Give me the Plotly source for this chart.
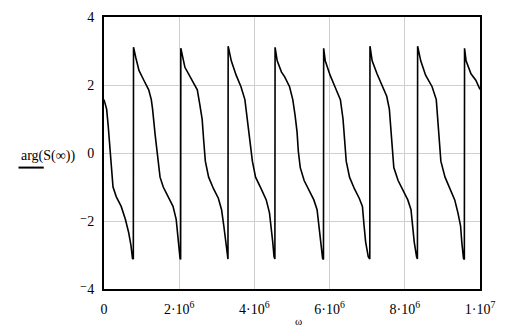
import plotly.graph_objects as go

# omega values (in units of 1e6) and arg(S(omega)) values
omega_e6 = [
    0.000, 0.070, 0.111, 0.155, 0.199, 0.240, 0.328, 0.457, 0.568, 0.654, 0.716, 0.757, 0.780,
    0.785, 0.845, 0.930, 1.059, 1.189, 1.258, 1.292, 1.362, 1.429, 1.491, 1.576, 1.705, 1.835, 1.920, 1.964, 2.023, 2.038,
    2.043, 2.152, 2.351, 2.481, 2.540, 2.610, 2.654, 2.695, 2.783, 2.912, 3.041, 3.127, 3.186, 3.238, 3.282, 3.297,
    3.302, 3.385, 3.514, 3.643, 3.747, 3.817, 3.884, 3.946, 4.031, 4.178, 4.315, 4.401, 4.444, 4.488, 4.522, 4.545,
    4.550, 4.607, 4.721, 4.806, 4.935, 5.021, 5.083, 5.134, 5.168, 5.220, 5.323, 5.452, 5.581, 5.667, 5.711, 5.755, 5.814, 5.837,
    5.842, 5.884, 6.013, 6.142, 6.287, 6.357, 6.401, 6.442, 6.530, 6.659, 6.788, 6.873, 6.917, 6.959, 7.028, 7.069,
    7.074, 7.132, 7.261, 7.390, 7.519, 7.589, 7.623, 7.674, 7.708, 7.822, 7.951, 8.080, 8.165, 8.209, 8.251, 8.313, 8.336,
    8.341, 8.424, 8.553, 8.726, 8.837, 8.881, 8.915, 8.959, 9.070, 9.199, 9.328, 9.413, 9.483, 9.516, 9.561, 9.584,
    9.589, 9.630, 9.760, 9.889, 9.974, 10.000,
]
arg_S = [
    1.57, 1.29, 0.81, 0.14, -0.52, -1.00, -1.29, -1.57, -1.95, -2.33, -2.71, -3.10, -3.12,
    3.11, 2.81, 2.43, 2.14, 1.86, 1.57, 1.29, 0.52, -0.05, -0.71, -1.00, -1.29, -1.57, -1.95, -2.52, -3.10, -3.13,
    3.08, 2.52, 2.10, 1.86, 1.48, 1.00, 0.33, -0.24, -0.71, -1.05, -1.33, -1.67, -2.14, -2.62, -3.05, -3.12,
    3.14, 2.71, 2.29, 1.95, 1.57, 1.00, 0.33, -0.24, -0.71, -1.05, -1.38, -1.76, -2.14, -2.62, -3.05, -3.12,
    3.11, 2.71, 2.38, 2.24, 1.95, 1.57, 1.10, 0.62, 0.05, -0.43, -0.81, -1.10, -1.38, -1.67, -2.14, -2.62, -3.10, -3.13,
    3.08, 2.71, 2.29, 1.95, 1.57, 1.00, 0.33, -0.24, -0.71, -1.05, -1.33, -1.57, -2.14, -2.62, -3.05, -3.12,
    3.14, 2.71, 2.33, 2.00, 1.67, 1.29, 0.71, 0.05, -0.43, -0.81, -1.10, -1.38, -1.67, -2.14, -2.62, -3.05, -3.12,
    3.14, 2.71, 2.29, 1.95, 1.57, 1.00, 0.33, -0.24, -0.71, -1.05, -1.38, -1.76, -2.14, -2.62, -3.10, -3.13,
    3.08, 2.71, 2.33, 2.14, 1.90, 1.87,
]
omega = [v * 1e6 for v in omega_e6]

x_tickvals = [0, 2e6, 4e6, 6e6, 8e6, 1e7]
x_ticktext = ["0", "2·10<sup>6</sup>", "4·10<sup>6</sup>", "6·10<sup>6</sup>", "8·10<sup>6</sup>", "1·10<sup>7</sup>"]
y_tickvals = [-4, -2, 0, 2, 4]
y_ticktext = ["⁻4", "⁻2", "0", "2", "4"]

FONT = "'Liberation Serif', 'DejaVu Serif', serif"

fig = go.Figure()
fig.add_trace(go.Scatter(
    x=omega, y=arg_S, mode="lines",
    line=dict(color="black", width=1.6),
    showlegend=False, hoverinfo="skip",
))

axis_common = dict(
    showline=True, linecolor="black", linewidth=2, mirror=True,
    showgrid=True, gridcolor="#cfcfcf", gridwidth=1,
    zeroline=False, ticks="",
    tickfont=dict(family=FONT, size=14, color="black"),
    ticklabeloverflow="allow",
)
fig.update_xaxes(range=[0, 1e7], tickmode="array", tickvals=x_tickvals, ticktext=x_ticktext,
                 ticklabelstandoff=6, **axis_common)
fig.update_yaxes(range=[-4, 4], tickmode="array", tickvals=y_tickvals, ticktext=y_ticktext,
                 ticklabelstandoff=5, **axis_common)

fig.update_layout(
    width=505, height=327,
    margin=dict(l=104, r=14, t=10, b=37),
    paper_bgcolor="white", plot_bgcolor="white",
    font=dict(family=FONT, color="black"),
    annotations=[
        dict(text="arg(S(∞))", xref="paper", yref="paper", x=-0.227, y=0.489,
             xanchor="left", yanchor="middle", showarrow=False,
             font=dict(family=FONT, size=14, color="black")),
        dict(text="ω", xref="paper", yref="paper", x=0.516, y=-0.118,
             xanchor="center", yanchor="middle", showarrow=False,
             font=dict(family=FONT, size=11, color="black")),
    ],
    shapes=[
        dict(type="line", xref="paper", yref="paper", x0=-0.2274, x1=-0.1602,
             y0=0.4464, y1=0.4464, line=dict(color="black", width=2)),
    ],
)

fig.write_html("out.html")
